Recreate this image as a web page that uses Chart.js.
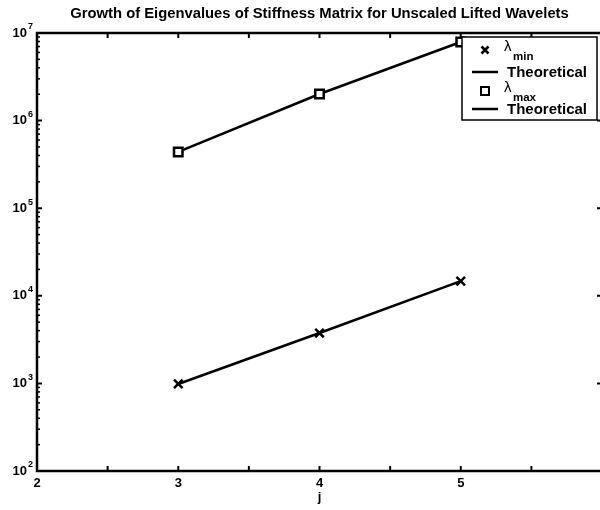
<!DOCTYPE html>
<html>
<head>
<meta charset="utf-8">
<title>Eigenvalue growth</title>
<script src="https://cdn.jsdelivr.net/npm/chart.js@4.4.0/dist/chart.umd.min.js"></script>
<style>
    html, body { margin: 0; padding: 0; background: #fff; overflow: hidden; }
    #eigChart { position: absolute; left: 0; top: 0; }
</style>
</head>
<body>
<canvas id="eigChart" width="606" height="510"></canvas>
<script>
// Data
const levels = [3, 4, 5];                         // j
const lambdaMin = [985, 3760, 14700];
const theoryMin = [985, 3760, 14700];
const lambdaMax = [439000, 2010000, 7900000];
const theoryMax = [439000, 2010000, 7900000];

// Axis labels
const xLabels = [2, 3, 4, 5];
const xMinorTicks = [2, 2.5, 3, 3.5, 4, 4.5, 5, 5.5, 6];
const yExponents = [2, 3, 4, 5, 6, 7];

const FONT = "'Liberation Sans', Arial, Helvetica, sans-serif";

const toPoints = (ys) => levels.map((j, i) => ({ x: j, y: ys[i] }));

// Legend entries (lambda with subscript, or plain text)
const legendItems = [
    { kind: 'cross', main: 'λ', sub: 'min' },
    { kind: 'line', main: 'Theoretical' },
    { kind: 'square', main: 'λ', sub: 'max' },
    { kind: 'line', main: 'Theoretical' }
];

// MATLAB-style box, inward ticks, labels and legend
const matlabAxes = {
    id: 'matlabAxes',
    afterDatasetsDraw(chart) {
        const { ctx, chartArea: a, scales: { x, y } } = chart;
        ctx.save();
        ctx.strokeStyle = '#000';
        ctx.fillStyle = '#000';

        // box
        ctx.lineWidth = 2.5;
        ctx.strokeRect(a.left, a.top, a.right - a.left, a.bottom - a.top);

        // x ticks (bottom + top)
        ctx.lineWidth = 2;
        xMinorTicks.forEach(v => {
            const px = x.getPixelForValue(v);
            ctx.beginPath();
            ctx.moveTo(px, a.bottom); ctx.lineTo(px, a.bottom - 5);
            ctx.moveTo(px, a.top); ctx.lineTo(px, a.top + 5);
            ctx.stroke();
        });

        // y ticks: left side decades + minor, right side decades only
        yExponents.forEach(e => {
            for (let m = 1; m <= 9; m++) {
                const v = m * Math.pow(10, e);
                if (v > 1e7) break;
                const py = y.getPixelForValue(v);
                const major = m === 1;
                ctx.lineWidth = major ? 2 : 1.5;
                ctx.beginPath();
                ctx.moveTo(a.left, py); ctx.lineTo(a.left + (major ? 5 : 3), py);
                if (major) { ctx.moveTo(a.right, py); ctx.lineTo(a.right - 5, py); }
                ctx.stroke();
            }
        });

        // x tick labels
        ctx.font = 'bold 13px ' + FONT;
        ctx.textAlign = 'center';
        ctx.textBaseline = 'middle';
        xLabels.forEach(v => ctx.fillText(String(v), x.getPixelForValue(v), a.bottom + 12));

        // x title
        ctx.fillText('j', (a.left + a.right) / 2, a.bottom + 26);

        // y tick labels 10^e
        yExponents.forEach(e => {
            const py = y.getPixelForValue(Math.pow(10, e));
            ctx.font = 'bold 13px ' + FONT;
            ctx.textAlign = 'right';
            ctx.fillText('10', a.left - 10, py);
            ctx.font = 'bold 9px ' + FONT;
            ctx.textAlign = 'left';
            ctx.fillText(String(e), a.left - 9, py - 6);
        });

        // legend
        const bx = 462, by = 37, bw = 135, bh = 83;
        ctx.fillStyle = '#fff';
        ctx.fillRect(bx, by, bw, bh);
        ctx.lineWidth = 1.5;
        ctx.strokeRect(bx, by, bw, bh);
        ctx.fillStyle = '#000';
        const rowsY = [50, 72, 91, 109];
        legendItems.forEach((it, i) => {
            const ry = rowsY[i];
            const mx = 485;
            ctx.lineWidth = 2.5;
            if (it.kind === 'cross') {
                ctx.beginPath();
                ctx.moveTo(mx - 3.5, ry - 3.5); ctx.lineTo(mx + 3.5, ry + 3.5);
                ctx.moveTo(mx + 3.5, ry - 3.5); ctx.lineTo(mx - 3.5, ry + 3.5);
                ctx.stroke();
            } else if (it.kind === 'square') {
                ctx.lineWidth = 2;
                ctx.strokeRect(mx - 4, ry - 4, 8, 8);
            } else {
                ctx.beginPath();
                ctx.moveTo(472, ry); ctx.lineTo(498, ry);
                ctx.stroke();
            }
            ctx.textAlign = 'left';
            ctx.textBaseline = 'middle';
            if (it.sub) {
                ctx.font = '15px ' + FONT;
                ctx.fillText(it.main, 504, ry - 3);
                ctx.font = 'bold 11.5px ' + FONT;
                ctx.fillText(it.sub, 513, ry + 7);
            } else {
                ctx.font = 'bold 15px ' + FONT;
                ctx.fillText(it.main, 507, ry + 1);
            }
        });
        ctx.restore();
    }
};

new Chart(document.getElementById('eigChart'), {
    type: 'line',
    data: {
        datasets: [
            {
                label: 'λmin',
                data: toPoints(lambdaMin),
                showLine: false,
                pointStyle: 'crossRot',
                pointRadius: 6,
                borderWidth: 2.5,
                borderColor: '#000',
                backgroundColor: '#000'
            },
            {
                label: 'Theoretical',
                data: toPoints(theoryMin),
                borderColor: '#000',
                borderWidth: 2.5,
                pointRadius: 0,
                fill: false
            },
            {
                label: 'λmax',
                data: toPoints(lambdaMax),
                showLine: false,
                pointStyle: 'rect',
                pointRadius: 6,
                borderWidth: 2.5,
                borderColor: '#000',
                backgroundColor: '#fff'
            },
            {
                label: 'Theoretical',
                data: toPoints(theoryMax),
                borderColor: '#000',
                borderWidth: 2.5,
                pointRadius: 0,
                fill: false
            }
        ]
    },
    options: {
        responsive: false,
        animation: false,
        // the original figure is cropped: its right axis sits just past the edge
        layout: { autoPadding: false, padding: { left: 0, right: 4, top: 0, bottom: 0 } },
        plugins: {
            legend: { display: false },
            tooltip: { enabled: false },
            title: {
                display: true,
                fullSize: false,
                text: 'Growth of Eigenvalues of Stiffness Matrix for Unscaled Lifted Wavelets',
                color: '#000',
                font: { family: FONT, size: 14.8, weight: 'bold' },
                padding: { top: 5, bottom: 10.24 }
            }
        },
        scales: {
            x: {
                type: 'linear',
                min: 2,
                max: 6,
                grid: { display: false },
                border: { display: false },
                ticks: { display: false },
                afterFit: s => { s.height = 39; }
            },
            y: {
                type: 'logarithmic',
                min: 100,
                max: 1e7,
                grid: { display: false },
                border: { display: false },
                ticks: { display: false },
                afterFit: s => { s.width = 37; }
            }
        }
    },
    plugins: [matlabAxes]
});
</script>
</body>
</html>
